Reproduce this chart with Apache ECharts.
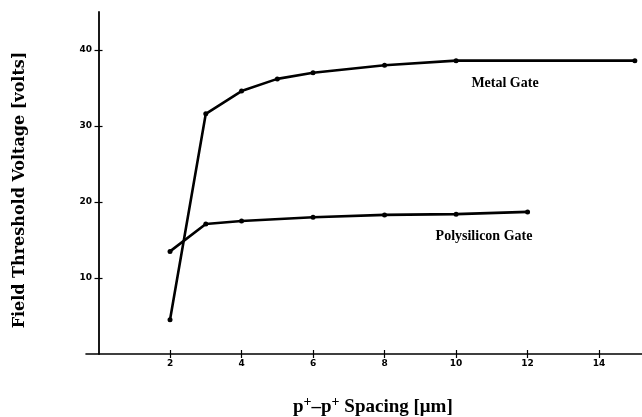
<!DOCTYPE html>
<html><head><meta charset="utf-8">
<script src="https://cdn.jsdelivr.net/npm/echarts@6/dist/echarts.min.js"></script>
<style>html,body{margin:0;padding:0;background:#fff}#c{width:642px;height:417px}</style>
</head><body><div id="c"></div>
<script>
const metalX = [2, 3, 4, 5, 6, 8, 10, 15];
const metalY = [4.5, 31.6, 34.6, 36.2, 37.0, 38.0, 38.6, 38.6];
const polyX = [2, 3, 4, 6, 8, 10, 12];
const polyY = [13.5, 17.1, 17.5, 18.0, 18.3, 18.4, 18.7];
const xTicks = [2, 4, 6, 8, 10, 12, 14];
const yTicks = [10, 20, 30, 40];
const seriesNames = ['Metal Gate', 'Polysilicon Gate'];
const xTitle = ['p', '+', '–p', '+', ' Spacing [μm]'];
const yTitle = 'Field Threshold Voltage [volts]';

const chart = echarts.init(document.getElementById('c'));
const serif = '"Liberation Serif", "DejaVu Serif", serif';
const slab = '"DejaVu Serif", serif';
const lineStyle = {color: '#000', width: 2.6};
function mk(xs, ys, name) {
  return {
    name, type: 'line', xAxisIndex: 0, yAxisIndex: 0,
    data: xs.map((x, i) => [x, ys[i]]),
    symbol: 'circle', symbolSize: 5,
    itemStyle: {color: '#000'}, lineStyle, silent: true, animation: false
  };
}
const axisCommon = {type: 'value', min: -0.35, max: 15.2, position: 'bottom', splitLine: {show: false}};
const tickLabel = {color: '#000', fontSize: 9, fontWeight: 'bold', fontFamily: '"DejaVu Sans", sans-serif'};
chart.setOption({
  animation: false,
  grid: {left: 86, right: 0, top: 12, bottom: 63, outerBoundsMode: 'none', containLabel: false},
  xAxis: [
    Object.assign({}, axisCommon, {
      axisLine: {show: true, onZero: false, lineStyle: {color: '#000', width: 1.6}},
      axisTick: {show: true, customValues: xTicks, length: 4, lineStyle: {color: '#000', width: 1.2}},
      axisLabel: Object.assign({customValues: xTicks, margin: 5}, tickLabel)
    }),
    Object.assign({}, axisCommon, {
      axisLine: {show: false, onZero: false},
      axisTick: {show: true, inside: true, customValues: xTicks, length: 4, lineStyle: {color: '#000', width: 1.2}},
      axisLabel: {show: false}
    })
  ],
  yAxis: [
    {
      type: 'value', min: 0, max: 45, interval: 10, position: 'left', splitLine: {show: false},
      axisLine: {show: true, onZero: true, lineStyle: {color: '#000', width: 1.8}},
      axisTick: {show: true, customValues: yTicks, length: 4, lineStyle: {color: '#000', width: 1.2}},
      axisLabel: Object.assign({customValues: yTicks, margin: -6}, tickLabel)
    },
    {
      type: 'value', min: 0, max: 45, interval: 10, position: 'left', splitLine: {show: false},
      axisLine: {show: false, onZero: true},
      axisTick: {show: true, inside: true, customValues: yTicks, length: 4, lineStyle: {color: '#000', width: 1.2}},
      axisLabel: {show: false}
    }
  ],
  graphic: [
    {type: 'text', x: 505, y: 83, style: {text: seriesNames[0], font: '600 14px ' + serif, fill: '#000', align: 'center', verticalAlign: 'middle'}},
    {type: 'text', x: 484, y: 236, style: {text: seriesNames[1], font: '600 14px ' + serif, fill: '#000', align: 'center', verticalAlign: 'middle'}},
    {type: 'text', x: 20, y: 190, rotation: Math.PI / 2,
      style: {text: yTitle, font: 'bold 16px ' + slab, fill: '#000', align: 'center', verticalAlign: 'middle'}},
    {type: 'text', x: 293, y: 417,
      style: {
        text: '{b|' + xTitle[0] + '}{s|' + xTitle[1] + '}{b|' + xTitle[2] + '}{s|' + xTitle[3] + '}{b|' + xTitle[4] + '}',
        align: 'left', verticalAlign: 'bottom',
        rich: {
          b: {fontFamily: serif, fontWeight: 'bold', fontSize: 19, fill: '#000', verticalAlign: 'bottom'},
          s: {fontFamily: serif, fontWeight: 'bold', fontSize: 14, fill: '#000', verticalAlign: 'top', padding: [0, 0, 8, 0]}
        }
      }}
  ],
  series: [mk(metalX, metalY, seriesNames[0]), mk(polyX, polyY, seriesNames[1])]
});
</script></body></html>
